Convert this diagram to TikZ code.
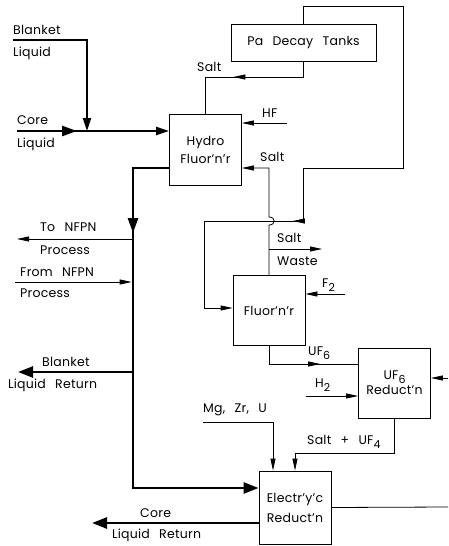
\documentclass[tikz,border=0pt]{standalone}
\usepackage{fontspec}
\setmainfont{Poppins}[LetterSpace=2,WordSpace=2.6]
\usetikzlibrary{arrows.meta,decorations.markings,calc}

\newcommand{\lowidx}[1]{\raisebox{-0.55ex}{\fontsize{11}{11}\selectfont#1}}

\tikzset{
  unit/.style={draw,line width=0.8pt,minimum width=72pt,minimum height=71pt,align=center,inner sep=0pt},
  lbl/.style={anchor=west,inner sep=0pt},
  pipe/.style={line width=0.8pt,->},
  feed/.style={line width=2pt,-{Triangle[length=13pt,width=8pt]}},
  heavy/.style={line width=2.6pt,-{Triangle[length=15pt,width=11pt]}},
  midarrow/.style={postaction={decorate,decoration={markings,
      mark=at position #1 with {\arrow{Triangle[length=12pt,width=5pt]}}}}},
  heavymid/.style={postaction={decorate,decoration={markings,
      mark=at position #1 with {\arrow{Triangle[length=15pt,width=10pt]}}}}}
}

\begin{document}
\begin{tikzpicture}[x=1pt,y=-1pt,>={Triangle[length=12pt,width=5pt]},
  font=\fontsize{12.5}{15}\selectfont]
 \useasboundingbox (0,0) rectangle (448,546);

 % process units
 \node[unit] (hydro) at (205.5,149.5) {Hydro\\[3pt]Fluor'n'r};
 \node[unit,minimum width=145pt,minimum height=37pt] (pa) at (303.5,42.5) {Pa Decay Tanks};
 \node[unit,minimum height=70pt] (fluor) at (269,310.5) {Fluor'n'r};
 \node[unit,minimum height=70pt] (uf6) at (394.5,383) {UF\lowidx{6}\\Reduct'n};
 \node[unit,minimum height=73pt] (elec) at (295,507.5) {Electr'y'c\\[5pt]Reduct'n};

 % labels
 \node[lbl] (lblank)  at (13,30)   {Blanket};
 \node[lbl] (lbliq)   at (13,53)   {Liquid};
 \node[lbl] (lcore)   at (17,120)  {Core};
 \node[lbl] (lcliq)   at (17,144)  {Liquid};
 \node[lbl] (lsaltpa) at (197,67)  {Salt};
 \node[lbl] (lhf)     at (262,113) {HF};
 \node[lbl] (lsaltr)  at (260,157) {Salt};
 \node[lbl] (ltonf)   at (40,227)  {To NFPN};
 \node[lbl] (ltoproc) at (40,250)  {Process};
 \node[lbl] (lfromnf) at (20,272)  {From NFPN};
 \node[lbl] (lfrproc) at (20,293)  {Process};
 \node[lbl] (lsaltw)  at (277,238) {Salt};
 \node[lbl] (lwaste)  at (277,261) {Waste};
 \node[lbl] (lftwo)   at (322,285) {F\lowidx{2}};
 \node[lbl] (luf6)    at (308,353) {UF\lowidx{6}};
 \node[lbl] (lhtwo)   at (315,385) {H\lowidx{2}};
 \node[lbl] (lbret)   at (42,362)  {Blanket};
 \node[lbl] (lbretl)  at (8,385)   {Liquid Return};
 \node[lbl] (lmg)     at (203,410) {Mg, Zr, U};
 \node[lbl] (lsuf4)   at (307,442) {Salt + UF\lowidx{4}};
 \node[lbl] (lcret)   at (140,513) {Core};
 \node[lbl] (lcretl)  at (112,535) {Liquid Return};

 % free ends and corners
 \coordinate (blin)   at (13,40);
 \coordinate (join)   at (87,131);
 \coordinate (corein) at (17,131);
 \coordinate (trunk)  at (133,168);
 \coordinate (elecin) at (133,488);
 \coordinate (tonf)   at (17,239);
 \coordinate (fromnf) at (15,282);
 \coordinate (blout)  at (18,372);
 \coordinate (coreout) at (92,523);
 \coordinate (pabot)  at (303,77);
 \coordinate (patop)  at (303,6);
 \coordinate (loopr)  at (403,168);
 \coordinate (loopm)  at (303,221);
 \coordinate (loopl)  at (204,308);
 \coordinate (hopa)   at (269,225);
 \coordinate (hopb)   at (269,217);
 \coordinate (sret)   at (269,168);
 \coordinate (waste)  at (322,249);
 \coordinate (hf)     at (287,123);
 \coordinate (ftwo)   at (345,294);
 \coordinate (uf6l)   at (269,364);
 \coordinate (htwo)   at (306,396);
 \coordinate (rin)    at (448,378);
 \coordinate (sufl)   at (295,453);
 \coordinate (mg)     at (203,422);
 \coordinate (mgr)    at (273,422);
 \coordinate (eout)   at (448,507);

 % liquid feeds and returns
 \draw[feed] (blin) -| (join);
 \draw[feed,line width=2.2pt,heavymid=0.395] (corein) -- (hydro.west |- corein);
 \draw[heavy,heavymid=0.21] (hydro.west |- trunk) -- (trunk) -- (elecin) -- (elec.west |- elecin);
 \draw[pipe] (trunk |- tonf) -- (tonf);
 \draw[pipe,shorten >=1.3pt] (fromnf) -- (trunk |- fromnf);
 \draw[heavy] (trunk |- blout) -- (blout);
 \draw[heavy] (elec.west |- coreout) -- (coreout);

 % salt streams
 \draw[line width=0.8pt,midarrow=0.57] (pa.south -| pabot) -- (pabot) -- (hydro.north |- pabot) -- (hydro.north);
 \draw[pipe,midarrow=0.684] (pa.north -| patop) -- (patop) -| (loopr) -| (loopm) -- (loopl |- loopm) -- (loopl) -- (fluor.west |- loopl);
 \draw[pipe] (fluor.north) -- (hopa) .. controls (276,225) and (276,217) .. (hopb) -- (sret) -- (hydro.east |- sret);
 \draw[pipe] (fluor.north |- waste) -- (waste);
 \draw[pipe] (hf) -- (hydro.east |- hf);
 \draw[pipe] (ftwo) -- (fluor.east |- ftwo);
 \draw[line width=0.8pt,midarrow=0.646] (fluor.south) -- (uf6l) -- (uf6.west |- uf6l);
 \draw[pipe] (htwo) -- (uf6.west |- htwo);
 \draw[pipe] (rin) -- (uf6.east |- rin);
 \draw[pipe] (uf6.south) |- (sufl) -- (elec.north);
 \draw[pipe] (mg) -- (mgr) -- (elec.north -| mgr);
 \draw[line width=0.8pt] (elec.east) -- (eout);
\end{tikzpicture}
\end{document}
